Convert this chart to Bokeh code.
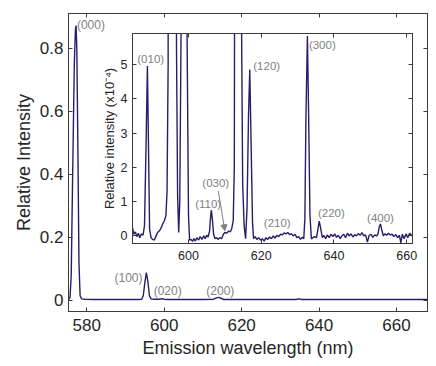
from bokeh.plotting import figure
from bokeh.models import Range1d, LinearAxis, FixedTicker, Arrow, NormalHead, CustomLabelingPolicy
from bokeh.layouts import column
from bokeh.core.properties import value
from bokeh.embed import file_html
from bokeh.resources import INLINE

# ---------------- data ----------------
main_nm = [575.3, 575.7, 576.0, 576.4, 576.8, 577.1, 577.25, 577.45, 577.75, 578.0, 578.3, 578.7,
           579.5, 582.0, 586.0, 590.0, 593.0, 594.2, 594.6, 595.0, 595.4, 595.8, 596.2, 596.6,
           597.5, 598.8, 599.4, 600.0, 601.0, 605.0, 610.0, 612.8, 613.5, 614.1, 614.7, 615.4,
           620.0, 625.0, 630.0, 634.0, 634.8, 635.6, 640.0, 650.0, 660.0, 668.0]
main_int = [0.003, 0.01, 0.08, 0.42, 0.75, 0.86, 0.872, 0.80, 0.45, 0.12, 0.015, 0.005,
            0.004, 0.003, 0.003, 0.003, 0.003, 0.004, 0.015, 0.055, 0.088, 0.06, 0.015, 0.005,
            0.004, 0.004, 0.006, 0.004, 0.003, 0.003, 0.003, 0.004, 0.008, 0.010, 0.007, 0.003,
            0.003, 0.003, 0.003, 0.003, 0.005, 0.003, 0.003, 0.003, 0.003, 0.003]

inset_nm = [584.6, 585.0, 585.4, 585.8, 586.2, 586.6, 587.0, 587.5, 587.9, 588.3, 588.7, 589.0,
            589.3, 589.7, 590.1, 590.6, 591.0, 591.5, 592.0, 592.4, 592.9, 593.4, 593.8, 594.1,
            594.4, 594.8, 595.3, 595.8, 596.3, 596.7, 597.0, 597.3, 597.6, 598.1, 598.6, 599.2,
            599.6, 600.0, 600.3, 600.7, 601.1, 601.5, 601.9, 602.3, 602.8, 603.2, 603.7, 604.2,
            604.6, 605.0, 605.4, 605.8, 606.1, 606.3, 606.6, 606.9, 607.3, 607.7, 608.1, 608.6,
            609.1, 609.6, 610.0, 610.5, 611.0, 611.5, 611.9, 612.3, 612.6, 613.0, 613.6, 614.2,
            614.6, 614.9, 615.3, 615.7, 616.1, 616.5, 616.85, 617.2, 617.6, 617.9, 618.3, 618.8,
            619.3, 619.8, 620.3, 620.8, 621.3, 621.8, 622.3, 622.8, 623.3, 623.8, 624.3, 624.8,
            625.3, 625.8, 626.3, 626.8, 627.3, 627.8, 628.3, 628.8, 629.3, 629.8, 630.3, 630.8,
            631.3, 631.7, 632.0, 632.3, 632.7, 633.0, 633.4, 633.8, 634.2, 634.7, 635.2, 635.6,
            635.95, 636.3, 636.8, 637.2, 637.7, 638.2, 638.7, 639.2, 639.7, 640.2, 640.7, 641.2,
            641.7, 642.2, 642.7, 643.2, 643.7, 644.2, 644.7, 645.2, 645.7, 646.2, 646.7, 647.2,
            647.7, 648.2, 648.7, 649.2, 649.7, 650.2, 650.7, 651.2, 651.7, 652.1, 652.5, 652.8,
            653.2, 653.6, 654.0, 654.5, 655.0, 655.5, 656.0, 656.5, 657.0, 657.5, 658.0, 658.4,
            658.8, 659.3, 659.8, 660.3, 660.8, 661.3, 661.6]
inset_int = [0.24, 0.05, 0.12, -0.02, 0.08, -0.05, 0.06, 0.02, 0.3, 2.5, 4.95, 2.6,
             0.2, -0.05, -0.1, -0.12, -0.02, 0.1, 0.15, 0.22, 0.35, 0.45, 0.6, 1.3,
             5.0, 100.0, 880.0, 500.0, 40.0, 5.5, 1.2, 0.1, 1.0, 8.0, 60.0, 40.0,
             6.0, 0.6, -0.12, -0.1, -0.16, -0.08, -0.15, -0.05, -0.12, -0.02, -0.1, 0.0,
             -0.08, 0.02, -0.03, 0.15, 0.6, 0.75, 0.45, 0.05, -0.08, -0.05, -0.1, -0.05,
             -0.08, 0.05, 0.1, 0.08, 0.14, 0.12, 0.22, 0.45, 2.0, 30.0, 90.0, 40.0,
             6.0, 1.5, 0.3, -0.08, 0.8, 3.5, 4.85, 2.8, 0.4, -0.08, -0.02, -0.1,
             -0.05, -0.12, -0.08, -0.15, -0.05, -0.1, -0.03, -0.08, 0.0, -0.06, 0.02, -0.02,
             0.05, 0.03, 0.09, 0.06, 0.1, 0.04, 0.07, 0.0, 0.05, -0.05, -0.02, -0.1,
             -0.04, -0.08, 0.5, 3.5, 5.83, 3.8, 0.6, -0.09, -0.05, -0.02, -0.05, 0.2,
             0.43, 0.25, -0.05, 0.02, -0.08, 0.03, -0.05, 0.05, -0.02, 0.06, -0.04, 0.02,
             -0.08, 0.0, 0.05, -0.05, 0.08, 0.0, 0.06, -0.03, 0.04, 0.0, 0.07, 0.02,
             0.1, 0.0, 0.03, -0.18, 0.02, 0.05, -0.04, 0.03, 0.0, 0.05, 0.28, 0.35,
             0.15, 0.0, 0.06, 0.02, 0.08, 0.03, 0.05, -0.02, 0.04, -0.05, 0.02, -0.2,
             0.05, -0.08, 0.06, -0.05, 0.08, 0.0, 0.05]

main_labels = ["(000)", "(100)", "(020)", "(200)"]
main_label_x = [581.1, 590.8, 600.9, 614.5]
main_label_y = [0.872, 0.072, 0.030, 0.030]

inset_labels = ["(010)", "(120)", "(300)", "(110)", "(030)", "(210)", "(220)", "(400)"]
inset_label_x = [589.6, 621.5, 636.8, 605.4, 607.5, 624.4, 639.3, 652.8]
inset_label_y = [5.15, 4.96, 5.57, 0.94, 1.54, 0.39, 0.66, 0.53]

main_xticks = [580, 600, 620, 640, 660]
main_yticks = [0, 0.2, 0.4, 0.6, 0.8]
main_ytick_labels = ["0", "0.2", "0.4", "0.6", "0.8"]
inset_xticks = [600, 620, 640, 660]
inset_yticks = [0, 1, 2, 3, 4, 5]

# ---------------- style ----------------
FONT = "Liberation Sans"
LINE = "#2d1b69"
AX = "#3a3a3a"
TXT = "#262626"
ANN = "#7f7f7f"


def style_axis(ax, size, standoff=5):
    ax.axis_line_color = AX
    ax.major_tick_line_color = AX
    ax.major_tick_in = 4
    ax.major_tick_out = 0
    ax.minor_tick_line_color = None
    ax.major_label_text_font = FONT
    ax.major_label_text_color = TXT
    ax.major_label_standoff = standoff
    ax.major_label_text_font_size = size
    ax.axis_label_text_font = FONT
    ax.axis_label_text_font_style = "normal"
    ax.axis_label_text_color = TXT


def tick_only_axis(ticks):
    ax = LinearAxis(ticker=FixedTicker(ticks=ticks),
                    major_label_policy=CustomLabelingPolicy(code="return new Set()"))
    style_axis(ax, "0px", standoff=0)
    return ax


# ---------------- main figure ----------------
p = figure(width=436, height=366,
           x_range=Range1d(575.3, 668.0), y_range=Range1d(-0.035, 0.91),
           min_border_left=68, min_border_right=9, min_border_top=13, min_border_bottom=55,
           output_backend="svg", toolbar_location=None)
p.outline_line_color = AX
p.outline_line_alpha = 1.0
p.grid.visible = False

p.xaxis.ticker = FixedTicker(ticks=main_xticks)
p.yaxis.ticker = FixedTicker(ticks=main_yticks)
p.yaxis.major_label_overrides = {t: l for t, l in zip(main_yticks, main_ytick_labels)}
for ax in p.xaxis:
    style_axis(ax, "17px", standoff=7)
for ax in p.yaxis:
    style_axis(ax, "17px", standoff=5)
p.xaxis.axis_label = "Emission wavelength (nm)"
p.yaxis.axis_label = "Relative Intensity"
p.xaxis.axis_label_text_font_size = "18px"
p.yaxis.axis_label_text_font_size = "18px"
p.yaxis.axis_label_standoff = 3
p.xaxis.axis_label_standoff = 4

p.add_layout(tick_only_axis(main_xticks), "above")
p.add_layout(tick_only_axis(main_yticks), "right")

p.line(main_nm, main_int, line_color=LINE, line_width=1.4)
p.text(x=main_label_x, y=main_label_y, text=main_labels, text_align="center",
       text_baseline="middle", text_font=value(FONT), text_font_size="12px", text_color=ANN)

# ---------------- inset figure ----------------
# borders equal to the main figure's left/right borders (column aligns them)
ins = figure(width=357, height=239,
             x_range=Range1d(584.6, 661.6), y_range=Range1d(-0.22, 5.9),
             min_border_left=68, min_border_right=9, min_border_top=5, min_border_bottom=24,
             output_backend="svg", toolbar_location=None,
             background_fill_color="white", border_fill_alpha=0.0)
ins.outline_line_color = AX
ins.outline_line_alpha = 1.0
ins.grid.visible = False
ins.xaxis.ticker = FixedTicker(ticks=inset_xticks)
ins.yaxis.ticker = FixedTicker(ticks=inset_yticks)
for ax in ins.xaxis:
    style_axis(ax, "12.5px", standoff=7)
for ax in ins.yaxis:
    style_axis(ax, "12.5px", standoff=5)
ins.yaxis.axis_label = "Relative intensity (x10\u207b\u2074)"
ins.yaxis.axis_label_text_font_size = "13px"
ins.yaxis.axis_label_standoff = 1

ins.add_layout(tick_only_axis(inset_xticks), "above")
ins.add_layout(tick_only_axis(inset_yticks), "right")

ins.line(inset_nm, inset_int, line_color=LINE, line_width=1.4)
ins.text(x=inset_label_x, y=inset_label_y, text=inset_labels, text_align="center",
         text_baseline="middle", text_font=value(FONT), text_font_size="11.5px", text_color=ANN)
ins.add_layout(Arrow(end=NormalHead(size=6, fill_color="#808080", line_color="#808080"),
                     x_start=608.2, y_start=1.31, x_end=610.0, y_end=0.15,
                     line_color="#808080", line_width=1))

ins.styles = {"position": "absolute", "left": "64px", "top": "28px", "z-index": "2"}

root = column(p, ins, styles={"position": "relative"})

open("out.html", "w").write(file_html(root, INLINE))
